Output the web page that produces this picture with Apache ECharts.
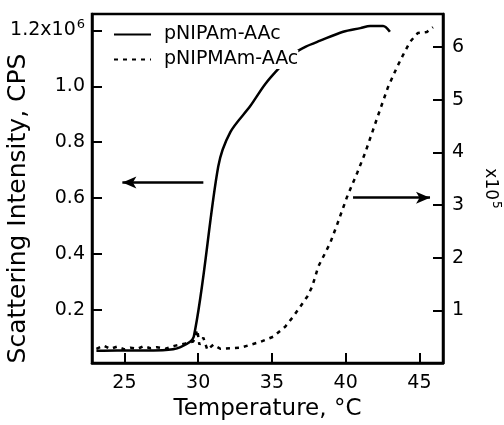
<!DOCTYPE html>
<html>
<head>
<meta charset="utf-8">
<script src="https://cdn.jsdelivr.net/npm/echarts@6/dist/echarts.min.js"></script>
<style>html,body{margin:0;padding:0;background:#fff}#c{width:504px;height:425px}</style>
</head>
<body>
<div id="c"></div>
<script>
// pNIPAm-AAc (left axis, x10^6 CPS)
const tempA = [23.1, 24.5, 26.0, 27.6, 28.8, 29.7, 31.36, 32.18, 33.53, 34.55, 35.56, 36.44, 37.3, 38.27, 39.83, 41.0, 41.66, 42.54, 43.0];
const intensityA = [0.054, 0.055, 0.055, 0.056, 0.067, 0.104, 0.713, 0.836, 0.929, 1.008, 1.069, 1.115, 1.142, 1.163, 1.195, 1.208, 1.216, 1.216, 1.195];
// pNIPMAm-AAc (right axis, x10^5 CPS)
const tempB = [23.1, 23.6, 24.05, 24.5, 25.0, 25.4, 25.9, 26.3, 26.76, 27.2, 27.78, 28.45, 29.13, 29.67, 29.94, 30.08, 30.35, 30.62, 31.03, 31.5, 32.85, 34.2, 35.09, 35.9, 36.44, 36.92, 37.39, 37.73, 38.14, 38.61, 38.95, 39.42, 39.83, 40.1, 40.78, 41.32, 41.86, 42.33, 42.87, 43.48, 43.89, 44.36, 44.9, 45.51, 45.92];
const intensityB = [0.27, 0.33, 0.27, 0.31, 0.26, 0.29, 0.27, 0.32, 0.28, 0.30, 0.27, 0.33, 0.37, 0.41, 0.63, 0.35, 0.48, 0.25, 0.35, 0.27, 0.29, 0.40, 0.50, 0.69, 0.88, 1.07, 1.26, 1.45, 1.83, 2.09, 2.28, 2.63, 2.95, 3.16, 3.61, 3.99, 4.43, 4.81, 5.24, 5.62, 5.85, 6.10, 6.27, 6.29, 6.38];
const xTicks = [25, 30, 35, 40, 45];
const leftTicks = [0.2, 0.4, 0.6, 0.8, 1.0, 1.2];
const rightTicks = [1, 2, 3, 4, 5, 6];
const seriesNames = ['pNIPAm-AAc', 'pNIPMAm-AAc'];
// arrows: [x, y] start and end
const leftArrow = [[30.35, 0.656], [24.86, 0.656]];
const rightArrow = [[40.5, 3.14], [45.72, 3.14]];

const FONT = 'DejaVu Sans';
const chart = echarts.init(document.getElementById('c'), null, {renderer: 'canvas'});
const zipPts = (xs, ys) => xs.map((x, i) => [x, ys[i]]);
const arrowLine = (pts) => ({
  silent: true,
  symbol: ['none', 'arrow'],
  symbolSize: [9, 14],
  label: {show: false},
  emphasis: {disabled: true},
  lineStyle: {color: '#000', width: 2.5, type: 'solid'},
  data: [[{coord: pts[0]}, {coord: pts[1]}]]
});
const T = (size, extra) => Object.assign({fontFamily: FONT, fontSize: size, fontWeight: 'normal', color: '#000'}, extra || {});

chart.setOption({
  animation: false,
  backgroundColor: '#fff',
  textStyle: {fontFamily: FONT, color: '#000'},
  grid: {left: 92, right: 61, top: 14, bottom: 62, containLabel: false, outerBoundsMode: 'none',
    show: true, borderColor: '#000', borderWidth: 2.5},
  legend: {
    orient: 'vertical', left: 108, top: 20, itemWidth: 37, itemHeight: 20, itemGap: 6,
    itemStyle: {opacity: 0},
    textStyle: T(19, {padding: [0, 0, 0, 8], backgroundColor: '#fff'}),
    data: seriesNames
  },
  xAxis: {
    type: 'value', min: 22.8, max: 46.6,
    name: 'Temperature, °C', nameLocation: 'middle', nameGap: 35, nameMoveOverlap: false,
    nameTextStyle: T(23),
    axisLine: {lineStyle: {color: '#000', width: 2.5}},
    axisTick: {inside: true, length: 10, lineStyle: {width: 2, color: '#000'}, customValues: xTicks},
    axisLabel: T(19, {margin: 11, customValues: xTicks}),
    splitLine: {show: false}
  },
  yAxis: [{
    type: 'value', position: 'left', min: 0.01, max: 1.2585,
    name: 'Scattering Intensity, CPS', nameLocation: 'middle', nameGap: 61, nameMoveOverlap: false,
    nameTextStyle: T(25, {padding: [0, 40, 0, 0]}),
    axisLine: {show: true, lineStyle: {color: '#000', width: 2.5}},
    axisTick: {show: true, inside: true, length: 10, lineStyle: {width: 2, color: '#000'}, customValues: leftTicks},
    axisLabel: T(19, {
      margin: 7, customValues: leftTicks,
      formatter: v => Math.abs(v - 1.2) < 1e-6 ? '{a|1.2x10}{s|6}' : v.toFixed(1),
      rich: {a: T(19), s: T(13, {padding: [0, 0, 12, 1]})}
    }),
    splitLine: {show: false}
  }, {
    type: 'value', position: 'right', min: 0, max: 6.63,
    name: '{a|x10}{s|5}', nameLocation: 'middle', nameGap: 35, nameRotate: -90, nameMoveOverlap: false,
    nameTextStyle: T(17, {rich: {a: T(17), s: T(12, {padding: [0, 0, 12, 1]})}}),
    axisLine: {show: true, lineStyle: {color: '#000', width: 2.5}},
    axisTick: {show: true, inside: true, length: 10, lineStyle: {width: 2, color: '#000'}, customValues: rightTicks},
    axisLabel: T(19, {margin: 9, customValues: rightTicks}),
    splitLine: {show: false}
  }],
  series: [{
    name: seriesNames[0], type: 'line', yAxisIndex: 0, symbol: 'none', smooth: 0.3,
    color: '#000', z: 2,
    lineStyle: {color: '#000', width: 2.5, type: 'solid'},
    data: zipPts(tempA, intensityA),
    markLine: arrowLine(leftArrow)
  }, {
    name: seriesNames[1], type: 'line', yAxisIndex: 1, symbol: 'none', smooth: false,
    color: '#000', z: 2,
    lineStyle: {color: '#000', width: 2.5, type: [4, 5]},
    data: zipPts(tempB, intensityB),
    markLine: arrowLine(rightArrow)
  }]
});
</script>
</body>
</html>
